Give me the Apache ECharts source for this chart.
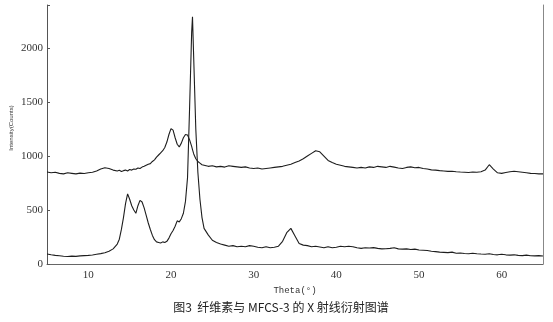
<!DOCTYPE html>
<html>
<head>
<meta charset="utf-8">
<script src="https://cdn.jsdelivr.net/npm/echarts@6/dist/echarts.min.js"></script>
<style>html,body{margin:0;padding:0;background:#fff;}#c{width:553px;height:322px;}</style>
</head>
<body>
<div id="c"></div>
<script>
// 2θ positions (degrees)
var theta = [
  5, 5.5, 6, 6.5, 7, 7.5, 8, 8.5, 9, 9.5,
  10, 10.5, 11, 11.5, 12, 12.5, 13, 13.5, 13.75, 14,
  14.25, 14.5, 14.75, 15, 15.25, 15.5, 15.75, 16, 16.25, 16.5,
  16.75, 17, 17.25, 17.5, 17.75, 18, 18.25, 18.5, 18.75, 19,
  19.25, 19.5, 19.75, 20, 20.25, 20.5, 20.75, 21, 21.25, 21.5,
  21.75, 22, 22.25, 22.5, 22.6, 22.75, 23, 23.25, 23.5, 23.75,
  24, 24.5, 25, 25.5, 26, 26.5, 27, 27.5, 28, 28.5,
  29, 29.5, 30, 30.5, 31, 31.5, 32, 32.5, 33, 33.5,
  34, 34.5, 35, 35.5, 36, 36.5, 37, 37.5, 38, 38.5,
  39, 39.5, 40, 40.5, 41, 41.5, 42, 42.5, 43, 43.5,
  44, 44.5, 45, 45.5, 46, 46.5, 47, 47.5, 48, 48.5,
  49, 49.5, 50, 50.5, 51, 51.5, 52, 52.5, 53, 53.5,
  54, 54.5, 55, 55.5, 56, 56.5, 57, 57.5, 58, 58.5,
  59, 59.5, 60, 60.5, 61, 61.5, 62, 62.5, 63, 63.5,
  64, 64.5, 65
];
// 纤维素 (lower curve)
var cellulose = [
  92, 85, 80, 76, 72, 70, 73, 71, 75, 78,
  80, 84, 90, 96, 105, 118, 140, 185, 230, 320,
  430, 560, 650, 600, 540, 500, 470, 540, 590, 575,
  520, 450, 380, 320, 265, 225, 205, 200, 195, 205,
  200, 210, 240, 280, 310, 350, 400, 390, 420, 470,
  580, 800, 1450, 2150, 2290, 1900, 1250, 850, 600, 430,
  330, 270, 220, 200, 185, 175, 165, 170, 160, 165,
  160, 170, 165, 155, 150, 160, 150, 155, 165, 210,
  290, 330, 260, 190, 175, 170, 160, 165, 158, 150,
  160, 150, 155, 165, 160, 165, 160, 150, 145, 150,
  148, 152, 145, 140, 142, 145, 150, 140, 138, 140,
  135, 138, 130, 128, 125, 118, 115, 110, 108, 105,
  110, 100, 102, 98, 95, 100, 95, 92, 90, 95,
  88, 85, 90, 85, 82, 85, 80, 78, 82, 76,
  75, 78, 74
];
// MFCS-3 (upper curve)
var mfcs3 = [
  852, 845, 850, 840, 835, 845, 840, 835, 842, 838,
  845, 850, 862, 880, 892, 885, 870, 862, 868, 858,
  865, 870, 862, 875, 870, 880, 878, 890, 885, 898,
  905, 915, 925, 930, 950, 965, 990, 1010, 1030, 1050,
  1080, 1130, 1200, 1255, 1240, 1170, 1110, 1085, 1120, 1170,
  1200, 1195, 1150, 1090, 1060, 1020, 975, 950, 935, 920,
  915, 905, 910, 900, 905, 898, 910, 905, 900, 895,
  900, 890, 885, 890, 880, 885, 890, 895, 900, 905,
  915, 925, 940, 955, 975, 1000, 1025, 1050, 1040, 1000,
  960, 940, 925, 915, 905, 900, 895, 890, 895, 890,
  900, 895, 905, 900, 895, 905, 898, 890, 885, 895,
  900, 892, 895, 885, 880, 872, 870, 865, 862, 858,
  860, 855, 852, 850, 848, 852, 850, 855, 870, 920,
  880, 845, 840, 848, 855, 860, 855, 850, 845, 840,
  838, 835, 835
];
var seriesNames = ['纤维素', 'MFCS-3'];
var xTickLabels = [10, 20, 30, 40, 50, 60];
var yTickLabels = [0, 500, 1000, 1500, 2000];

function zip(xs, ys) { return xs.map(function (x, i) { return [x, ys[i]]; }); }

var chart = echarts.init(document.getElementById('c'), null, { renderer: 'canvas' });
var lineColor = '#1e1e1e';
chart.setOption({
  animation: false,
  backgroundColor: '#fff',
  grid: { left: 47, right: 10, top: 5, bottom: 58, containLabel: false },
  xAxis: {
    type: 'value', min: 5, max: 65, interval: 5,
    name: 'Theta(°)', nameLocation: 'middle', nameGap: 19,
    nameTextStyle: { fontFamily: 'Liberation Mono', fontSize: 9, color: '#333' },
    axisLine: { show: true, lineStyle: { color: '#666', width: 1 } },
    axisTick: { show: false },
    splitLine: { show: false },
    axisLabel: {
      margin: 6, fontFamily: 'Liberation Serif', fontSize: 11, color: '#333',
      formatter: function (v) { return xTickLabels.indexOf(v) >= 0 ? String(v) : ''; }
    }
  },
  yAxis: [{
    type: 'value', min: 0, max: 2400, interval: 500,
    axisLine: { show: true, lineStyle: { color: '#555', width: 1 } },
    axisTick: { show: true, inside: true, length: 3, lineStyle: { color: '#555' } },
    splitLine: { show: false },
    axisLabel: {
      margin: 4, fontFamily: 'Liberation Serif', fontSize: 11, color: '#333',
      formatter: function (v) { return yTickLabels.indexOf(v) >= 0 ? String(v) : ''; }
    }
  }, {
    type: 'value', min: 0, max: 2400, position: 'right',
    axisLine: { show: true, lineStyle: { color: '#888', width: 1 } },
    axisTick: { show: false }, axisLabel: { show: false }, splitLine: { show: false }
  }],
  series: [{
    name: seriesNames[0], type: 'line', data: zip(theta, cellulose),
    showSymbol: false, symbol: 'none',
    lineStyle: { color: lineColor, width: 1.1 }
  }, {
    name: seriesNames[1], type: 'line', data: zip(theta, mfcs3),
    showSymbol: false, symbol: 'none',
    lineStyle: { color: lineColor, width: 1.1 }
  }],
  graphic: [{
    type: 'text', x: 11, y: 128, rotation: Math.PI / 2,
    style: {
      text: 'Intensity(Counts)', fontFamily: 'Liberation Sans Narrow, Liberation Sans', fontSize: 6,
      fill: '#333', textAlign: 'center', textVerticalAlign: 'middle'
    }
  }, {
    type: 'text', x: 281, y: 307,
    style: {
      text: '图3  纤维素与 MFCS-3 的 X 射线衍射图谱', fontFamily: 'Noto Sans CJK SC', fontSize: 12,
      fill: '#222', textAlign: 'center', textVerticalAlign: 'middle'
    }
  }]
});
</script>
</body>
</html>
